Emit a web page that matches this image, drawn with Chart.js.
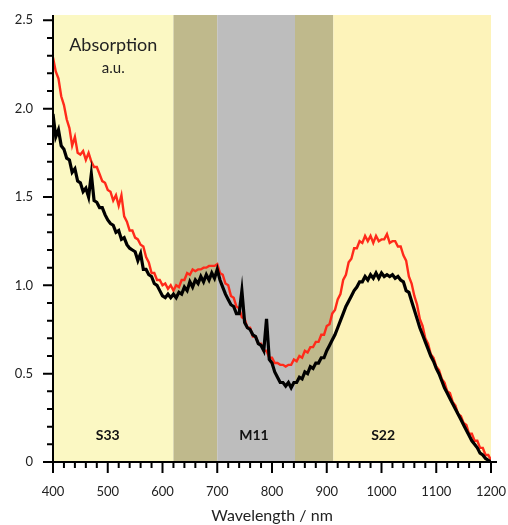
<!DOCTYPE html>
<html>
<head>
<meta charset="utf-8">
<script src="https://cdn.jsdelivr.net/npm/chart.js@4.4.1/dist/chart.umd.min.js"></script>
<style>
  html, body { margin: 0; padding: 0; background: #fff; }
  #wrap { width: 508px; height: 525px; }
</style>
</head>
<body>
<div id="wrap"><canvas id="c" width="508" height="525"></canvas></div>
<script>
// wavelength grid, nm
const wavelengths = [
  400, 405, 410, 415, 420, 425, 430, 435, 440, 445, 450, 455, 460, 465, 470, 475, 480, 485, 490, 495,
  500, 505, 510, 515, 520, 525, 530, 535, 540, 545, 550, 555, 560, 565, 570, 575, 580, 585, 590, 595,
  600, 605, 610, 615, 620, 625, 630, 635, 640, 645, 650, 655, 660, 665, 670, 675, 680, 685, 690, 695,
  700, 705, 710, 715, 720, 725, 730, 735, 740, 745, 750, 755, 760, 765, 770, 775, 780, 785, 790, 795,
  800, 805, 810, 815, 820, 825, 830, 835, 840, 845, 850, 855, 860, 865, 870, 875, 880, 885, 890, 895,
  900, 905, 910, 915, 920, 925, 930, 935, 940, 945, 950, 955, 960, 965, 970, 975, 980, 985, 990, 995,
  1000, 1005, 1010, 1015, 1020, 1025, 1030, 1035, 1040, 1045, 1050, 1055, 1060, 1065, 1070, 1075, 1080, 1085, 1090, 1095,
  1100, 1105, 1110, 1115, 1120, 1125, 1130, 1135, 1140, 1145, 1150, 1155, 1160, 1165, 1170, 1175, 1180, 1185, 1190, 1195,
  1200
];

// red trace
const redAbs = [
  2.29, 2.21, 2.17, 2.07, 2.02, 1.94, 1.89, 1.79, 1.84, 1.75, 1.74, 1.76, 1.71, 1.75, 1.70, 1.67, 1.67, 1.63, 1.59, 1.58,
  1.54, 1.53, 1.48, 1.51, 1.45, 1.51, 1.39, 1.36, 1.31, 1.31, 1.27, 1.26, 1.23, 1.22, 1.16, 1.13, 1.07, 1.07, 1.03, 1.03,
  1.00, 1.01, 0.98, 1.00, 0.97, 1.00, 0.99, 1.03, 1.03, 1.07, 1.06, 1.09, 1.08, 1.09, 1.09, 1.10, 1.10, 1.11, 1.11, 1.11,
  1.12, 1.07, 1.06, 1.01, 1.00, 0.94, 0.93, 0.88, 0.87, 0.82, 0.81, 0.76, 0.76, 0.71, 0.71, 0.67, 0.67, 0.63, 0.63, 0.59,
  0.59, 0.56, 0.56, 0.55, 0.55, 0.54, 0.55, 0.55, 0.58, 0.57, 0.60, 0.59, 0.63, 0.62, 0.65, 0.65, 0.68, 0.68, 0.72, 0.72,
  0.77, 0.78, 0.84, 0.86, 0.92, 0.95, 1.03, 1.06, 1.13, 1.15, 1.21, 1.21, 1.25, 1.24, 1.28, 1.25, 1.28, 1.24, 1.28, 1.25,
  1.26, 1.26, 1.29, 1.24, 1.25, 1.25, 1.22, 1.22, 1.17, 1.14, 1.05, 1.01, 0.94, 0.89, 0.81, 0.77, 0.70, 0.67, 0.61, 0.59,
  0.54, 0.52, 0.47, 0.45, 0.40, 0.39, 0.34, 0.32, 0.27, 0.26, 0.22, 0.21, 0.16, 0.16, 0.12, 0.12, 0.08, 0.08, 0.04, 0.04,
  0.01
];

// black trace
const blackAbs = [
  1.97, 1.84, 1.88, 1.79, 1.77, 1.72, 1.71, 1.64, 1.66, 1.59, 1.58, 1.53, 1.55, 1.50, 1.63, 1.48, 1.47, 1.44, 1.44, 1.40,
  1.37, 1.35, 1.34, 1.30, 1.31, 1.26, 1.27, 1.23, 1.21, 1.20, 1.19, 1.14, 1.18, 1.09, 1.09, 1.06, 1.05, 1.01, 1.00, 0.97,
  0.94, 0.93, 0.95, 0.93, 0.95, 0.93, 0.96, 0.95, 0.99, 0.97, 1.02, 0.99, 1.03, 1.01, 1.05, 1.02, 1.06, 1.03, 1.07, 1.04,
  1.09, 1.03, 0.99, 0.95, 0.92, 0.89, 0.88, 0.84, 0.84, 0.97, 0.79, 0.76, 0.75, 0.72, 0.71, 0.67, 0.66, 0.63, 0.81, 0.58,
  0.56, 0.51, 0.48, 0.45, 0.45, 0.43, 0.45, 0.42, 0.45, 0.45, 0.48, 0.47, 0.51, 0.50, 0.54, 0.53, 0.56, 0.56, 0.59, 0.59,
  0.63, 0.66, 0.69, 0.72, 0.76, 0.80, 0.84, 0.88, 0.91, 0.94, 0.97, 0.99, 1.02, 1.02, 1.05, 1.03, 1.06, 1.04, 1.07, 1.04,
  1.07, 1.05, 1.06, 1.05, 1.06, 1.04, 1.05, 1.03, 1.02, 0.97, 0.96, 0.91, 0.86, 0.81, 0.76, 0.72, 0.68, 0.64, 0.60, 0.57,
  0.53, 0.50, 0.46, 0.42, 0.39, 0.36, 0.33, 0.30, 0.27, 0.24, 0.21, 0.18, 0.15, 0.12, 0.10, 0.08, 0.05, 0.04, 0.02, 0.01,
  0.00
];

// background regions
const bandEdges = [400, 620, 700, 842, 912, 1200];
const bandColors = ['#fbf8c3', '#bfb98c', '#bdbdbd', '#bfb98c', '#fdf3ba'];
const bandLabels = ['S33', 'M11', 'S22'];
const bandLabelX = [500, 767, 1003];
const bandLabelY = 0.15;

const xMajor = [400, 500, 600, 700, 800, 900, 1000, 1100, 1200];
const yMajor = [0, 0.5, 1.0, 1.5, 2.0, 2.5];

const FONT = 'Lato, "Open Sans", sans-serif';

const bands = {
  id: 'bands',
  beforeDatasetsDraw(chart) {
    const { ctx, chartArea, scales: { x, y } } = chart;
    ctx.save();
    for (let i = 0; i < bandColors.length; i++) {
      const x0 = x.getPixelForValue(bandEdges[i]);
      const x1 = x.getPixelForValue(bandEdges[i + 1]);
      ctx.fillStyle = bandColors[i];
      ctx.fillRect(x0, chartArea.top, x1 - x0, chartArea.bottom - chartArea.top);
    }
    ctx.fillStyle = '#111';
    ctx.font = 'bold 14px ' + FONT;
    ctx.textAlign = 'center';
    ctx.textBaseline = 'middle';
    bandLabels.forEach((t, i) => {
      ctx.fillText(t, x.getPixelForValue(bandLabelX[i]), y.getPixelForValue(bandLabelY));
    });
    ctx.fillStyle = '#222';
    ctx.font = '18px ' + FONT;
    ctx.fillText('Absorption', x.getPixelForValue(510), y.getPixelForValue(2.36));
    ctx.font = '15px ' + FONT;
    ctx.fillText('a.u.', x.getPixelForValue(510), y.getPixelForValue(2.23));
    ctx.restore();
  }
};

// axis lines and tick marks (major long, minor short)
const axes = {
  id: 'axes',
  afterDatasetsDraw(chart) {
    const { ctx, chartArea, scales: { x, y } } = chart;
    ctx.save();
    ctx.strokeStyle = '#000';
    ctx.lineWidth = 2;
    ctx.beginPath();
    ctx.moveTo(chartArea.left, chartArea.top);
    ctx.lineTo(chartArea.left, chartArea.bottom);
    ctx.moveTo(chartArea.left - 10, chartArea.bottom);
    ctx.lineTo(chartArea.right + 6, chartArea.bottom);
    ctx.stroke();
    ctx.beginPath();
    x.ticks.forEach(t => {
      const px = x.getPixelForValue(t.value);
      const len = xMajor.includes(t.value) ? 11 : 6;
      ctx.moveTo(px, chartArea.bottom);
      ctx.lineTo(px, chartArea.bottom + len);
    });
    y.ticks.forEach(t => {
      const py = y.getPixelForValue(t.value);
      const major = yMajor.some(v => Math.abs(v - t.value) < 1e-6);
      ctx.moveTo(chartArea.left, py);
      ctx.lineTo(chartArea.left - (major ? 10 : 6), py);
    });
    ctx.stroke();
    ctx.restore();
  }
};

new Chart(document.getElementById('c'), {
  type: 'line',
  data: {
    datasets: [
      {
        label: 'black',
        data: wavelengths.map((w, i) => ({ x: w, y: blackAbs[i] })),
        borderColor: '#000',
        borderWidth: 3.2,
        pointRadius: 0,
        tension: 0
      },
      {
        label: 'red',
        data: wavelengths.map((w, i) => ({ x: w, y: redAbs[i] })),
        borderColor: '#ff2a1a',
        borderWidth: 2.4,
        pointRadius: 0,
        tension: 0
      }
    ]
  },
  plugins: [bands, axes],
  options: {
    responsive: false,
    animation: false,
    layout: { padding: { top: 15, right: 17, left: 0, bottom: 0 } },
    plugins: { legend: { display: false }, tooltip: { enabled: false } },
    scales: {
      x: {
        type: 'linear',
        min: 400,
        max: 1200,
        afterBuildTicks: s => {
          const t = [];
          for (let v = 400; v <= 1200; v += 20) t.push({ value: v });
          s.ticks = t;
        },
        afterFit: s => {
          s.height = 63;
          s.paddingLeft = 0;
          s.paddingRight = 0;
        },
        border: { display: false },
        grid: { display: false, drawTicks: false },
        ticks: {
          autoSkip: false,
          maxRotation: 0,
          padding: 22,
          color: '#222',
          font: { family: FONT, size: 13 },
          callback: v => (xMajor.includes(v) ? String(v) : '')
        },
        title: {
          display: true,
          text: 'Wavelength / nm',
          color: '#222',
          font: { family: FONT, size: 16 },
          padding: { top: 0, bottom: 0 }
        }
      },
      y: {
        type: 'linear',
        min: 0,
        max: 2.53,
        afterBuildTicks: s => {
          const t = [];
          for (let k = 0; k <= 25; k++) t.push({ value: k / 10 });
          s.ticks = t;
        },
        afterFit: s => {
          s.width = 53;
          s.paddingTop = 0;
          s.paddingBottom = 0;
        },
        border: { display: false },
        grid: { display: false, drawTicks: false },
        ticks: {
          autoSkip: false,
          padding: 20,
          color: '#222',
          font: { family: FONT, size: 13 },
          callback: v => {
            const m = yMajor.find(u => Math.abs(u - v) < 1e-6);
            if (m === undefined) return '';
            return m === 0 ? '0' : m.toFixed(1);
          }
        }
      }
    }
  }
});
</script>
</body>
</html>
